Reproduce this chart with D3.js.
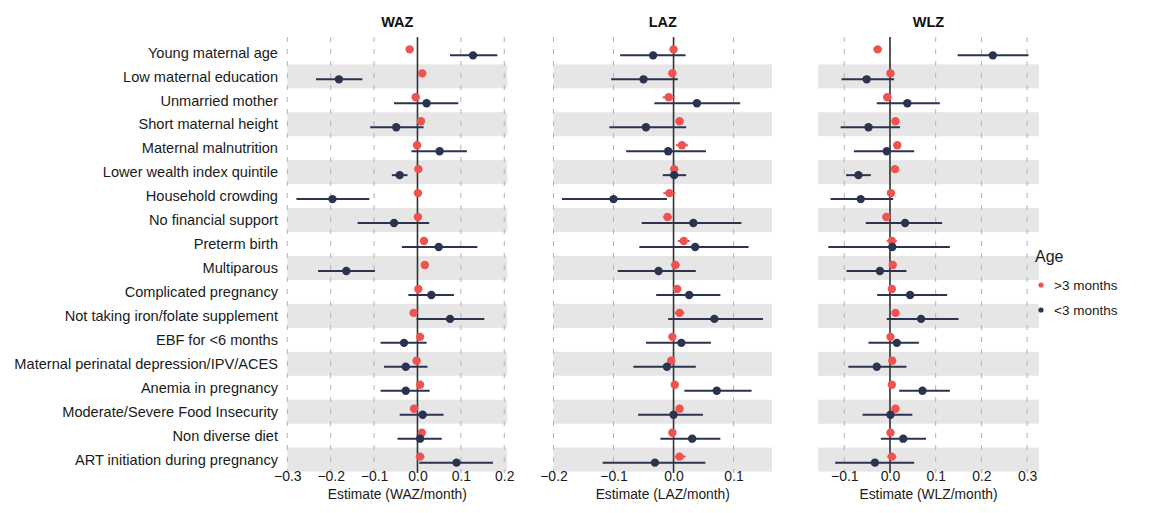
<!DOCTYPE html>
<html>
<head>
<meta charset="utf-8">
<script src="https://cdn.jsdelivr.net/npm/d3@7"></script>
<style>
  body { margin: 0; background: #fff; }
  text { font-family: "Liberation Sans", Arial, sans-serif; }
</style>
</head>
<body>
<script>
// rows, top to bottom
var factors = [
  "Young maternal age", "Low maternal education", "Unmarried mother",
  "Short maternal height", "Maternal malnutrition", "Lower wealth index quintile",
  "Household crowding", "No financial support", "Preterm birth", "Multiparous",
  "Complicated pregnancy", "Not taking iron/folate supplement", "EBF for <6 months",
  "Maternal perinatal depression/IPV/ACES", "Anemia in pregnancy",
  "Moderate/Severe Food Insecurity", "Non diverse diet", "ART initiation during pregnancy"
];

var panels = ["WAZ", "LAZ", "WLZ"];
var ageGroups = [">3 months", "<3 months"];

// WAZ
var wazOlder    = [-0.018, 0.011, -0.004, 0.008, -0.001, 0.002, 0.001, 0.001, 0.015, 0.017, 0.002, -0.009, 0.006, -0.002, 0.006, -0.008, 0.010, 0.006];
var wazOlderLo  = [-0.022, 0.007, -0.012, 0.004, -0.005, -0.002, -0.006, -0.003, 0.007, 0.013, -0.002, -0.014, 0.002, -0.006, 0.002, -0.012, 0.006, -0.004];
var wazOlderHi  = [-0.014, 0.015, 0.004, 0.012, 0.003, 0.006, 0.008, 0.005, 0.023, 0.021, 0.006, -0.004, 0.010, 0.002, 0.010, -0.004, 0.014, 0.016];
var wazYoung    = [0.128, -0.181, 0.021, -0.049, 0.051, -0.041, -0.196, -0.054, 0.049, -0.164, 0.032, 0.075, -0.031, -0.027, -0.027, 0.012, 0.006, 0.090];
var wazYoungLo  = [0.075, -0.234, -0.054, -0.109, -0.014, -0.059, -0.279, -0.138, -0.036, -0.229, -0.021, -0.002, -0.085, -0.077, -0.085, -0.041, -0.046, 0.004];
var wazYoungHi  = [0.184, -0.127, 0.094, 0.014, 0.114, -0.023, -0.111, 0.027, 0.138, -0.098, 0.084, 0.154, 0.021, 0.023, 0.028, 0.060, 0.056, 0.174];

// LAZ
var lazOlder    = [0.000, -0.002, -0.008, 0.010, 0.014, 0.001, -0.007, -0.010, 0.017, 0.003, 0.006, 0.010, -0.002, -0.004, 0.002, 0.010, -0.002, 0.010];
var lazOlderLo  = [-0.006, -0.007, -0.018, 0.004, 0.004, -0.003, -0.017, -0.017, 0.007, -0.004, 0.002, 0.002, -0.007, -0.010, -0.003, 0.004, -0.007, 0.000];
var lazOlderHi  = [0.006, 0.003, 0.002, 0.016, 0.024, 0.005, 0.003, -0.003, 0.027, 0.010, 0.010, 0.018, 0.003, 0.002, 0.007, 0.016, 0.003, 0.020];
var lazYoung    = [-0.034, -0.050, 0.039, -0.046, -0.009, 0.001, -0.100, 0.033, 0.036, -0.025, 0.026, 0.068, 0.013, -0.011, 0.072, 0.000, 0.031, -0.031];
var lazYoungLo  = [-0.089, -0.104, -0.032, -0.107, -0.079, -0.018, -0.186, -0.053, -0.057, -0.093, -0.029, -0.009, -0.046, -0.067, 0.018, -0.059, -0.022, -0.118];
var lazYoungHi  = [0.020, 0.007, 0.111, 0.021, 0.054, 0.021, -0.011, 0.113, 0.125, 0.037, 0.078, 0.149, 0.062, 0.037, 0.130, 0.049, 0.078, 0.053];

// WLZ
var wlzOlder    = [-0.027, 0.001, -0.006, 0.012, 0.016, 0.011, 0.002, -0.008, 0.004, 0.006, 0.004, 0.012, 0.001, 0.005, 0.004, 0.012, 0.001, 0.004];
var wlzOlderLo  = [-0.036, -0.003, -0.015, 0.007, 0.008, 0.007, -0.002, -0.016, -0.007, 0.001, -0.001, 0.005, -0.003, 0.001, 0.000, 0.007, -0.003, -0.006];
var wlzOlderHi  = [-0.018, 0.005, 0.003, 0.017, 0.024, 0.015, 0.006, 0.000, 0.015, 0.011, 0.009, 0.019, 0.005, 0.009, 0.008, 0.017, 0.005, 0.014];
var wlzYoung    = [0.225, -0.051, 0.038, -0.047, -0.007, -0.069, -0.064, 0.033, 0.005, -0.022, 0.044, 0.068, 0.015, -0.029, 0.071, 0.001, 0.029, -0.033];
var wlzYoungLo  = [0.148, -0.106, -0.029, -0.108, -0.079, -0.096, -0.130, -0.053, -0.135, -0.095, -0.028, -0.007, -0.047, -0.091, 0.020, -0.060, -0.020, -0.120];
var wlzYoungHi  = [0.303, 0.009, 0.109, 0.022, 0.053, -0.042, 0.007, 0.114, 0.131, 0.036, 0.125, 0.150, 0.063, 0.036, 0.131, 0.049, 0.079, 0.053];

var ticksWAZ = [-0.3, -0.2, -0.1, 0.0, 0.1, 0.2];
var ticksLAZ = [-0.2, -0.1, 0.0, 0.1];
var ticksWLZ = [-0.1, 0.0, 0.1, 0.2, 0.3];

var colOlder = "#ef5350";
var colYoung = "#2b3350";

var width = 1166, height = 513;

var svg = d3.select("body").append("svg")
    .attr("width", width)
    .attr("height", height);

var y = d3.scalePoint()
    .domain(factors)
    .range([38, 474])
    .padding(0.6);
var step = y.step();

var panelDefs = [
  { name: "WAZ", domain: [-0.3, 0.207], range: [287.3, 507.3], ticks: ticksWAZ,
    older: [wazOlder, wazOlderLo, wazOlderHi], young: [wazYoung, wazYoungLo, wazYoungHi] },
  { name: "LAZ", domain: [-0.2, 0.164], range: [553.5, 772], ticks: ticksLAZ,
    older: [lazOlder, lazOlderLo, lazOlderHi], young: [lazYoung, lazYoungLo, lazYoungHi] },
  { name: "WLZ", domain: [-0.1575, 0.326], range: [818, 1039], ticks: ticksWLZ,
    older: [wlzOlder, wlzOlderLo, wlzOlderHi], young: [wlzYoung, wlzYoungLo, wlzYoungHi] }
];

// row labels
svg.append("g").selectAll("text")
    .data(factors)
    .enter().append("text")
    .attr("x", 278)
    .attr("y", function(d) { return y(d); })
    .attr("dy", "0.36em")
    .attr("text-anchor", "end")
    .attr("font-size", 14.6)
    .attr("fill", "#1a1a1a")
    .text(function(d) { return d; });

panelDefs.forEach(function(p) {
    var x = d3.scaleLinear().domain(p.domain).range(p.range);
    var g = svg.append("g");

    // alternating bands
    g.selectAll(".band")
        .data(factors.filter(function(d, i) { return i % 2 == 1; }))
        .enter().append("rect")
        .attr("x", p.range[0])
        .attr("width", p.range[1] - p.range[0])
        .attr("y", function(d) { return y(d) - step / 2; })
        .attr("height", step)
        .attr("fill", "#e6e6e6");

    // dashed grid
    g.selectAll(".grid")
        .data(p.ticks)
        .enter().append("line")
        .attr("x1", function(d) { return x(d); })
        .attr("x2", function(d) { return x(d); })
        .attr("y1", 37)
        .attr("y2", 473)
        .attr("stroke", "#b3b3b3")
        .attr("stroke-width", 1)
        .attr("stroke-dasharray", "5,7");

    // zero line
    g.append("line")
        .attr("x1", x(0)).attr("x2", x(0))
        .attr("y1", 37).attr("y2", 473)
        .attr("stroke", "#333")
        .attr("stroke-width", 1.6);

    // axis
    var axis = d3.axisBottom(x).tickValues(p.ticks).tickSize(0).tickPadding(0)
        .tickFormat(d3.format(".1f"));
    var ax = g.append("g")
        .attr("transform", "translate(0,470)")
        .call(axis);
    ax.select(".domain").remove();
    ax.selectAll("text")
        .attr("dy", "0.8em")
        .attr("font-size", 14)
        .attr("fill", "#1a1a1a")
        .style("font-family", "Liberation Sans, Arial, sans-serif");

    g.append("text")
        .attr("x", (p.range[0] + p.range[1]) / 2)
        .attr("y", 499)
        .attr("text-anchor", "middle")
        .attr("font-size", 13.8)
        .attr("fill", "#1a1a1a")
        .text("Estimate (" + p.name + "/month)");

    g.append("text")
        .attr("x", (p.range[0] + p.range[1]) / 2)
        .attr("y", 27)
        .attr("text-anchor", "middle")
        .attr("font-size", 14.5)
        .attr("font-weight", "bold")
        .attr("fill", "#111")
        .text(p.name);

    // series: older (top), young (below)
    var series = [
        { vals: p.older, col: colOlder, off: -3 },
        { vals: p.young, col: colYoung, off: 3 }
    ];
    series.forEach(function(s) {
        var rows = factors.map(function(f, i) {
            return { f: f, est: s.vals[0][i], lo: s.vals[1][i], hi: s.vals[2][i] };
        });
        g.selectAll(null)
            .data(rows)
            .enter().append("line")
            .attr("x1", function(d) { return x(d.lo); })
            .attr("x2", function(d) { return x(d.hi); })
            .attr("y1", function(d) { return y(d.f) + s.off; })
            .attr("y2", function(d) { return y(d.f) + s.off; })
            .attr("stroke", s.col)
            .attr("stroke-width", 2);
        g.selectAll(null)
            .data(rows)
            .enter().append("circle")
            .attr("cx", function(d) { return x(d.est); })
            .attr("cy", function(d) { return y(d.f) + s.off; })
            .attr("r", 4.2)
            .attr("fill", s.col);
    });
});

// legend
var legend = svg.append("g").attr("transform", "translate(1035,0)");
legend.append("text")
    .attr("x", 0).attr("y", 262)
    .attr("font-size", 16)
    .attr("fill", "#1a1a1a")
    .text("Age");
legend.selectAll("circle")
    .data(ageGroups)
    .enter().append("circle")
    .attr("cx", 6)
    .attr("cy", function(d, i) { return 285 + i * 25; })
    .attr("r", 2.6)
    .attr("fill", function(d, i) { return i == 0 ? colOlder : colYoung; });
legend.selectAll(".lab")
    .data(ageGroups)
    .enter().append("text")
    .attr("x", 19)
    .attr("y", function(d, i) { return 285 + i * 25; })
    .attr("dy", "0.36em")
    .attr("font-size", 13.5)
    .attr("fill", "#1a1a1a")
    .text(function(d) { return d; });
</script>
</body>
</html>
